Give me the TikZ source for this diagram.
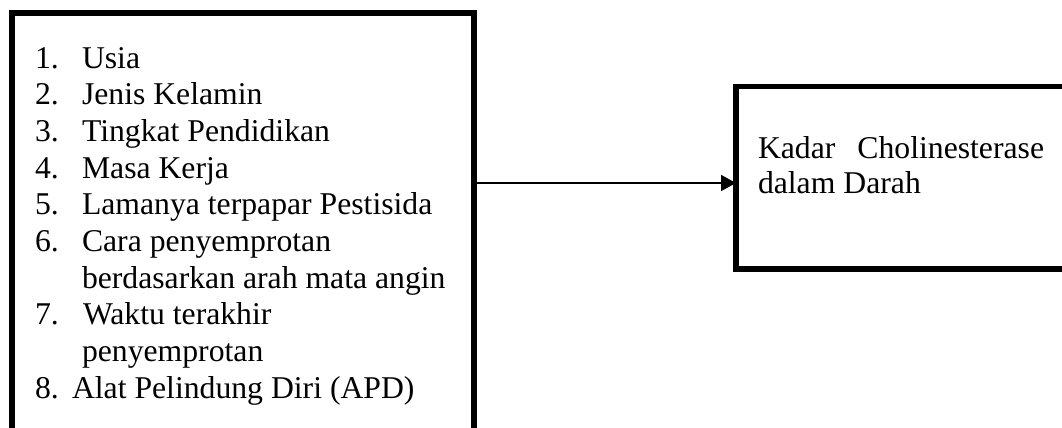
\documentclass[tikz,border=0pt]{standalone}
\usepackage{fontspec}
\setmainfont{Liberation Serif}
\usetikzlibrary{arrows.meta}
\tikzset{
  boxframe/.style={draw=black, line width=5.5pt, rectangle, inner sep=0pt, outer sep=0pt},
  txt/.style={anchor=base west, inner sep=0pt, outer sep=0pt, font=\fontsize{31.7}{36.7}\selectfont},
  conn/.style={line width=1.7pt, -{Triangle[length=15pt,width=16pt]}}
}
\begin{document}
\begin{tikzpicture}[x=1pt, y=-1pt]
\useasboundingbox (0,0) rectangle (1062,428);
\clip (0,0) rectangle (1062,428);
% boxes
\node[boxframe, minimum width=462pt, minimum height=427pt] (left) at (243,226.5) {};
\node[boxframe, minimum width=344pt, minimum height=182.5pt] (right) at (908,177.75) {};
% list text
\node[txt] (n1) at (35,68) {1.};
\node[txt] (t1) at (82,68) {Usia};
\node[txt] (n2) at (35,104.7) {2.};
\node[txt] (t2) at (82,104.7) {Jenis Kelamin};
\node[txt] (n3) at (35,141.4) {3.};
\node[txt] (t3) at (82,141.4) {Tingkat Pendidikan};
\node[txt] (n4) at (35,178.1) {4.};
\node[txt] (t4) at (82,178.1) {Masa Kerja};
\node[txt] (n5) at (35,214.8) {5.};
\node[txt] (t5) at (82,214.8) {Lamanya terpapar Pestisida};
\node[txt] (n6) at (35,251.5) {6.};
\node[txt] (t6a) at (82,251.5) {Cara penyemprotan};
\node[txt] (t6b) at (82,288.2) {berdasarkan arah mata angin};
\node[txt] (n7) at (35,324.9) {7.};
\node[txt] (t7a) at (83,324.9) {Waktu terakhir};
\node[txt] (t7b) at (82,361.6) {penyemprotan};
\node[txt] (n8) at (35,398.3) {8.};
\node[txt] (t8) at (72,398.3) {Alat Pelindung Diri (APD)};
% right text
\node[txt] (r1) at (758,158) {Kadar\hspace{22pt}Cholinesterase};
\node[txt] (r2) at (758,193) {dalam Darah};
% connector
\coordinate (ay) at (0,183);
\draw[conn] (left.east |- ay) -- (right.west |- ay);
\end{tikzpicture}
\end{document}
